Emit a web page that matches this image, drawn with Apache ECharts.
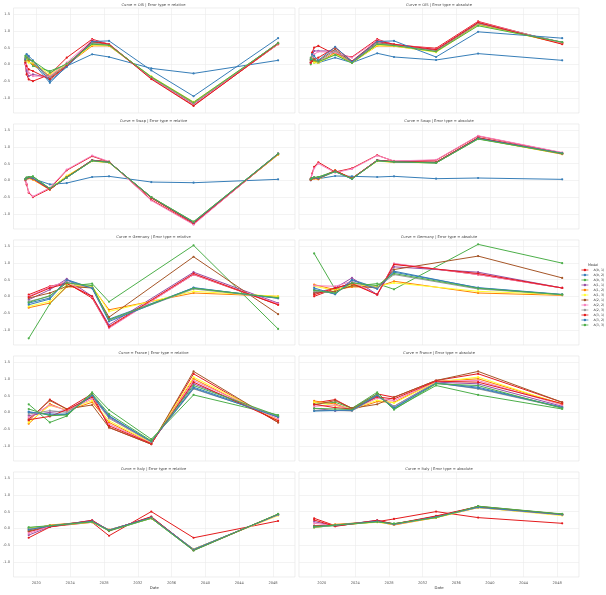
<!DOCTYPE html>
<html>
<head>
<meta charset="utf-8">
<script src="https://cdn.jsdelivr.net/npm/echarts@6/dist/echarts.min.js"></script>
<style>
  html, body { margin: 0; padding: 0; background: #fff; }
  #chart { width: 606px; height: 595px; }
</style>
</head>
<body>
<div id="chart"></div>
<script>
const models = ['A(0, 1)', 'A(0, 2)', 'A(0, 3)', 'A(1, 1)', 'A(1, 2)', 'A(1, 3)',
                'A(2, 1)', 'A(2, 2)', 'A(2, 3)', 'A(3, 1)', 'A(3, 2)', 'A(3, 3)'];
const curves = ['OIS', 'Swap', 'Germany', 'France', 'Italy'];
const errorTypes = ['relative', 'absolute'];
const yearTicks = [2020, 2024, 2028, 2032, 2036, 2040, 2044, 2048];
const errorTicks = [-1.0, -0.5, 0.0, 0.5, 1.0, 1.5];
const palette = ['#e41a1c', '#377eb8', '#4daf4a', '#984ea3', '#ff7f00', '#ffff33',
                 '#a65628', '#f781bf', '#999999', '#e41a1c', '#377eb8', '#4daf4a'];

// maturity dates (decimal years) per curve
const oisDates = [2018.7, 2018.85, 2019.1, 2019.6, 2021.6, 2023.6, 2026.6, 2028.6, 2033.6, 2038.6, 2048.6];
const swapDates = [2018.7, 2018.85, 2019.1, 2019.6, 2021.6, 2023.6, 2026.6, 2028.6, 2033.6, 2038.6, 2048.6];
const germanyDates = [2019.1, 2021.6, 2023.6, 2026.6, 2028.6, 2038.6, 2048.6];
const franceDates = [2019.1, 2021.6, 2023.6, 2026.6, 2028.6, 2033.6, 2038.6, 2048.6];
const italyDates = [2019.1, 2021.6, 2026.6, 2028.6, 2033.6, 2038.6, 2048.6];

// one row per model, same order as models
const oisRelative = [
  [0.00, -0.30, -0.45, -0.50, -0.30, 0.20, 0.75, 0.60, -0.42, -1.22, 0.60],
  [0.10, 0.30, 0.20, 0.05, -0.55, -0.05, 0.30, 0.22, -0.12, -0.27, 0.12],
  [0.20, 0.15, 0.10, -0.05, -0.20, 0.00, 0.62, 0.58, -0.38, -1.15, 0.62],
  [0.05, -0.20, -0.35, -0.30, -0.40, 0.00, 0.68, 0.58, -0.40, -1.18, 0.63],
  [0.15, 0.20, 0.10, 0.00, -0.35, -0.02, 0.55, 0.55, -0.38, -1.15, 0.60],
  [0.10, 0.15, 0.05, 0.05, -0.30, 0.00, 0.58, 0.56, -0.36, -1.12, 0.62],
  [0.12, 0.22, 0.15, 0.10, -0.42, -0.03, 0.66, 0.60, -0.40, -1.20, 0.64],
  [0.00, -0.10, -0.25, -0.35, -0.35, 0.05, 0.72, 0.60, -0.42, -1.20, 0.60],
  [0.18, 0.25, 0.18, 0.08, -0.38, -0.02, 0.64, 0.58, -0.40, -1.17, 0.64],
  [0.05, -0.05, -0.15, -0.20, -0.45, -0.05, 0.70, 0.60, -0.44, -1.24, 0.62],
  [0.15, 0.30, 0.25, 0.12, -0.50, -0.08, 0.68, 0.70, -0.18, -0.95, 0.78],
  [0.25, 0.20, 0.15, 0.10, -0.25, 0.02, 0.60, 0.57, -0.37, -1.13, 0.63]
];
const oisAbsolute = [
  [0.05, 0.35, 0.50, 0.55, 0.30, 0.22, 0.75, 0.58, 0.48, 1.28, 0.62],
  [0.10, 0.25, 0.15, 0.05, 0.20, 0.05, 0.33, 0.22, 0.13, 0.32, 0.12],
  [0.00, 0.10, 0.05, 0.05, 0.30, 0.05, 0.58, 0.56, 0.40, 1.18, 0.66],
  [0.05, 0.25, 0.40, 0.40, 0.40, 0.08, 0.68, 0.58, 0.42, 1.22, 0.64],
  [0.15, 0.20, 0.10, 0.05, 0.35, 0.05, 0.55, 0.54, 0.38, 1.20, 0.62],
  [0.10, 0.15, 0.05, 0.05, 0.30, 0.04, 0.56, 0.55, 0.36, 1.17, 0.63],
  [0.12, 0.22, 0.15, 0.10, 0.45, 0.06, 0.64, 0.58, 0.40, 1.24, 0.65],
  [0.05, 0.20, 0.30, 0.38, 0.35, 0.20, 0.72, 0.60, 0.45, 1.26, 0.63],
  [0.15, 0.25, 0.18, 0.08, 0.40, 0.05, 0.62, 0.57, 0.40, 1.21, 0.66],
  [0.05, 0.10, 0.15, 0.20, 0.50, 0.10, 0.70, 0.60, 0.44, 1.25, 0.60],
  [0.15, 0.30, 0.25, 0.12, 0.52, 0.08, 0.68, 0.70, 0.22, 0.97, 0.78],
  [0.20, 0.15, 0.12, 0.08, 0.28, 0.04, 0.60, 0.56, 0.38, 1.15, 0.66]
];
const swapRelative = [
  [0.00, -0.12, -0.37, -0.50, -0.25, 0.30, 0.72, 0.55, -0.58, -1.30, 0.78],
  [0.03, 0.05, 0.08, 0.05, -0.12, -0.08, 0.10, 0.12, -0.05, -0.07, 0.03],
  [0.02, 0.08, 0.10, 0.12, -0.25, 0.08, 0.58, 0.54, -0.50, -1.24, 0.80],
  [0.00, 0.05, 0.08, 0.05, -0.27, 0.10, 0.60, 0.55, -0.52, -1.26, 0.79],
  [0.03, 0.06, 0.06, 0.02, -0.28, 0.12, 0.58, 0.53, -0.51, -1.25, 0.76],
  [0.02, 0.05, 0.07, 0.04, -0.24, 0.14, 0.57, 0.53, -0.50, -1.24, 0.77],
  [0.01, 0.07, 0.09, 0.06, -0.26, 0.09, 0.60, 0.55, -0.52, -1.27, 0.78],
  [0.00, -0.10, -0.35, -0.48, -0.22, 0.32, 0.74, 0.56, -0.60, -1.32, 0.80],
  [0.03, 0.07, 0.09, 0.07, -0.25, 0.09, 0.59, 0.54, -0.51, -1.25, 0.78],
  [0.02, 0.06, 0.08, 0.05, -0.27, 0.10, 0.60, 0.55, -0.52, -1.27, 0.79],
  [0.04, 0.07, 0.09, 0.06, -0.24, 0.08, 0.59, 0.54, -0.50, -1.25, 0.80],
  [0.03, 0.08, 0.10, 0.11, -0.24, 0.09, 0.58, 0.54, -0.50, -1.23, 0.79]
];
const swapAbsolute = [
  [0.05, 0.20, 0.40, 0.54, 0.25, 0.36, 0.75, 0.57, 0.60, 1.32, 0.82],
  [0.03, 0.05, 0.08, 0.05, 0.13, 0.12, 0.10, 0.12, 0.05, 0.07, 0.03],
  [0.02, 0.05, 0.08, 0.10, 0.28, 0.04, 0.58, 0.55, 0.52, 1.24, 0.80],
  [0.00, 0.04, 0.06, 0.05, 0.29, 0.06, 0.60, 0.55, 0.54, 1.26, 0.80],
  [0.03, 0.05, 0.05, 0.03, 0.30, 0.05, 0.58, 0.54, 0.53, 1.25, 0.78],
  [0.02, 0.04, 0.06, 0.04, 0.26, 0.06, 0.57, 0.54, 0.52, 1.24, 0.78],
  [0.01, 0.06, 0.08, 0.06, 0.28, 0.05, 0.60, 0.56, 0.54, 1.27, 0.79],
  [0.03, 0.18, 0.36, 0.50, 0.23, 0.34, 0.74, 0.58, 0.61, 1.33, 0.83],
  [0.03, 0.06, 0.08, 0.07, 0.27, 0.05, 0.59, 0.55, 0.53, 1.25, 0.79],
  [0.02, 0.05, 0.07, 0.05, 0.29, 0.06, 0.60, 0.56, 0.54, 1.27, 0.80],
  [0.04, 0.06, 0.08, 0.06, 0.26, 0.04, 0.59, 0.55, 0.52, 1.25, 0.81],
  [0.03, 0.07, 0.09, 0.10, 0.26, 0.05, 0.58, 0.55, 0.52, 1.23, 0.80]
];
const germanyRelative = [
  [0.05, 0.30, 0.40, -0.05, -0.93, 0.65, -0.25],
  [-0.20, -0.05, 0.50, 0.25, -0.68, 0.25, -0.05],
  [-1.25, -0.22, 0.30, 0.38, -0.16, 1.52, -0.97],
  [-0.10, 0.20, 0.52, 0.00, -0.85, 0.72, -0.20],
  [-0.34, -0.20, 0.28, 0.28, -0.40, 0.10, 0.00],
  [-0.30, -0.15, 0.35, 0.30, -0.45, 0.15, 0.00],
  [-0.05, 0.10, 0.30, 0.25, -0.62, 1.18, -0.53],
  [0.00, 0.28, 0.45, -0.02, -0.95, 0.65, -0.22],
  [-0.15, 0.00, 0.42, 0.26, -0.72, 0.22, -0.05],
  [-0.02, 0.25, 0.38, 0.00, -0.90, 0.68, -0.25],
  [-0.25, -0.08, 0.48, 0.24, -0.75, 0.26, -0.06],
  [-0.18, 0.02, 0.40, 0.32, -0.70, 0.24, -0.04]
];
const germanyAbsolute = [
  [0.00, 0.23, 0.40, 0.06, 0.97, 0.65, 0.25],
  [0.20, 0.08, 0.50, 0.25, 0.75, 0.25, 0.05],
  [1.28, 0.21, 0.30, 0.38, 0.21, 1.55, 0.99],
  [0.10, 0.25, 0.55, 0.05, 0.88, 0.72, 0.25],
  [0.35, 0.20, 0.28, 0.28, 0.45, 0.10, 0.03],
  [0.30, 0.18, 0.35, 0.30, 0.40, 0.15, 0.05],
  [0.10, 0.15, 0.32, 0.25, 0.80, 1.20, 0.55],
  [0.32, 0.30, 0.45, 0.04, 0.98, 0.65, 0.25],
  [0.15, 0.10, 0.42, 0.26, 0.65, 0.22, 0.05],
  [0.05, 0.25, 0.38, 0.05, 0.95, 0.68, 0.25],
  [0.25, 0.06, 0.48, 0.22, 0.72, 0.26, 0.06],
  [0.18, 0.10, 0.40, 0.32, 0.68, 0.24, 0.05]
];
const franceRelative = [
  [-0.25, 0.38, 0.10, 0.55, -0.45, -0.95, 1.15, -0.30],
  [0.02, -0.08, -0.06, 0.52, -0.10, -0.88, 0.75, -0.12],
  [0.24, -0.30, -0.11, 0.60, 0.07, -0.80, 0.52, -0.08],
  [-0.10, 0.00, 0.05, 0.50, -0.15, -0.90, 0.85, -0.15],
  [-0.34, 0.25, 0.05, 0.30, -0.30, -0.92, 1.00, -0.25],
  [-0.30, 0.20, 0.08, 0.35, -0.25, -0.90, 1.05, -0.22],
  [-0.20, 0.35, 0.10, 0.22, -0.45, -0.95, 1.22, -0.30],
  [-0.15, 0.22, 0.06, 0.40, -0.35, -0.92, 0.95, -0.20],
  [-0.05, 0.05, 0.00, 0.48, -0.18, -0.88, 0.70, -0.12],
  [-0.22, -0.12, 0.08, 0.45, -0.40, -0.93, 0.90, -0.25],
  [0.00, -0.05, -0.05, 0.50, -0.12, -0.87, 0.72, -0.14],
  [0.10, -0.10, -0.08, 0.55, -0.05, -0.85, 0.80, -0.10]
];
const franceAbsolute = [
  [0.28, 0.38, 0.12, 0.55, 0.45, 0.95, 1.15, 0.30],
  [0.05, 0.05, 0.08, 0.52, 0.12, 0.88, 0.75, 0.15],
  [0.24, 0.30, 0.12, 0.60, 0.10, 0.80, 0.52, 0.10],
  [0.12, 0.05, 0.06, 0.50, 0.18, 0.90, 0.85, 0.18],
  [0.34, 0.25, 0.08, 0.32, 0.30, 0.92, 1.00, 0.25],
  [0.30, 0.20, 0.10, 0.36, 0.28, 0.90, 1.05, 0.24],
  [0.22, 0.35, 0.12, 0.24, 0.45, 0.95, 1.22, 0.30],
  [0.18, 0.22, 0.08, 0.42, 0.35, 0.92, 0.95, 0.22],
  [0.06, 0.06, 0.04, 0.48, 0.18, 0.88, 0.70, 0.14],
  [0.24, 0.14, 0.10, 0.46, 0.40, 0.93, 0.90, 0.26],
  [0.04, 0.06, 0.06, 0.50, 0.14, 0.87, 0.72, 0.15],
  [0.12, 0.10, 0.09, 0.55, 0.08, 0.85, 0.80, 0.12]
];
const italyRelative = [
  [-0.10, 0.05, 0.18, -0.22, 0.50, -0.28, 0.22],
  [0.00, 0.08, 0.22, -0.05, 0.32, -0.62, 0.40],
  [0.02, 0.06, 0.20, -0.08, 0.30, -0.66, 0.42],
  [-0.20, 0.05, 0.24, -0.06, 0.34, -0.64, 0.41],
  [-0.05, 0.10, 0.20, -0.04, 0.30, -0.62, 0.40],
  [0.00, 0.08, 0.18, -0.05, 0.30, -0.62, 0.38],
  [-0.08, 0.07, 0.22, -0.06, 0.33, -0.64, 0.42],
  [-0.15, 0.06, 0.22, -0.05, 0.32, -0.63, 0.40],
  [-0.02, 0.08, 0.20, -0.06, 0.31, -0.63, 0.41],
  [-0.28, 0.04, 0.24, -0.07, 0.35, -0.65, 0.42],
  [-0.04, 0.07, 0.21, -0.05, 0.32, -0.63, 0.41],
  [0.03, 0.08, 0.19, -0.07, 0.30, -0.66, 0.43]
];
const italyAbsolute = [
  [0.30, 0.08, 0.20, 0.28, 0.50, 0.32, 0.15],
  [0.02, 0.10, 0.22, 0.12, 0.34, 0.62, 0.40],
  [0.04, 0.08, 0.20, 0.14, 0.32, 0.66, 0.42],
  [0.20, 0.07, 0.24, 0.12, 0.36, 0.64, 0.41],
  [0.06, 0.12, 0.20, 0.10, 0.32, 0.62, 0.40],
  [0.02, 0.10, 0.18, 0.12, 0.32, 0.62, 0.38],
  [0.08, 0.09, 0.22, 0.13, 0.35, 0.64, 0.42],
  [0.15, 0.08, 0.22, 0.12, 0.34, 0.63, 0.40],
  [0.03, 0.10, 0.20, 0.13, 0.33, 0.63, 0.41],
  [0.25, 0.06, 0.24, 0.13, 0.37, 0.65, 0.42],
  [0.05, 0.09, 0.21, 0.12, 0.34, 0.63, 0.41],
  [0.04, 0.10, 0.19, 0.14, 0.32, 0.66, 0.43]
];

const panelData = [
  [oisDates, oisRelative, oisAbsolute],
  [swapDates, swapRelative, swapAbsolute],
  [germanyDates, germanyRelative, germanyAbsolute],
  [franceDates, franceRelative, franceAbsolute],
  [italyDates, italyRelative, italyAbsolute]
];

const chart = echarts.init(document.getElementById('chart'), null, { renderer: 'canvas' });

const FONT = 'DejaVu Sans';
const grids = [], xAxes = [], yAxes = [], series = [], graphics = [];

curves.forEach((curve, r) => {
  errorTypes.forEach((errType, c) => {
    const idx = r * 2 + c;
    const left = c === 0 ? 12 : 299;
    const width = c === 0 ? 283 : 280;
    const top = 8 + r * 116;
    const height = 105;
    const dates = panelData[r][0];
    const values = panelData[r][c + 1];

    grids.push({ left, top, width, height, show: true, borderColor: '#e2e2e2', borderWidth: 0.6 });

    graphics.push({
      type: 'text', x: left + width / 2, y: top - 3,
      style: { text: `Curve = ${curve} | Error type = ${errType}`, fontSize: 3.7, fill: '#444',
               textAlign: 'center', textVerticalAlign: 'middle', fontFamily: FONT }
    });

    xAxes.push({
      gridIndex: idx, type: 'value', min: 2017.3, max: 2050.6,
      axisLine: { show: false },
      axisTick: { show: false, customValues: yearTicks },
      axisLabel: { show: r === 4, customValues: yearTicks, fontSize: 3.6, color: '#555', margin: 4,
                   formatter: v => String(v), fontFamily: FONT },
      splitLine: { show: true, lineStyle: { color: '#ebebeb', width: 0.6 } },
      name: r === 4 ? 'Date' : '', nameLocation: 'middle', nameGap: 9,
      nameTextStyle: { fontSize: 3.8, color: '#333', fontFamily: FONT }
    });

    yAxes.push({
      gridIndex: idx, type: 'value', min: -1.45, max: 1.68,
      axisLine: { show: false },
      axisTick: { show: false, customValues: errorTicks },
      axisLabel: { show: c === 0, customValues: errorTicks, fontSize: 3.6, color: '#555', margin: 3.5,
                   formatter: v => v.toFixed(1), fontFamily: FONT },
      splitLine: { show: true, lineStyle: { color: '#ebebeb', width: 0.6 } }
    });

    models.forEach((m, k) => {
      series.push({
        name: m, type: 'line', xAxisIndex: idx, yAxisIndex: idx,
        data: dates.map((d, i) => [d, values[k][i]]),
        symbol: 'circle', symbolSize: 2.2,
        lineStyle: { width: 1, color: palette[k] },
        itemStyle: { color: palette[k] },
        emphasis: { disabled: true },
        animation: false
      });
    });
  });
});

graphics.push({
  type: 'text', x: 593, y: 265,
  style: { text: 'Model', fontSize: 3.4, fill: '#333', textAlign: 'center',
           textVerticalAlign: 'middle', fontFamily: FONT }
});

chart.setOption({
  backgroundColor: '#fff',
  animation: false,
  color: palette,
  grid: grids,
  xAxis: xAxes,
  yAxis: yAxes,
  graphic: graphics,
  legend: {
    data: models, orient: 'vertical', left: 581, top: 268, width: 25, padding: 0,
    itemWidth: 7, itemHeight: 3, itemGap: 1,
    lineStyle: { width: 0.8 },
    textStyle: { fontSize: 3.2, color: '#333', lineHeight: 4, fontFamily: FONT },
    selectedMode: false
  },
  series
});
</script>
</body>
</html>
